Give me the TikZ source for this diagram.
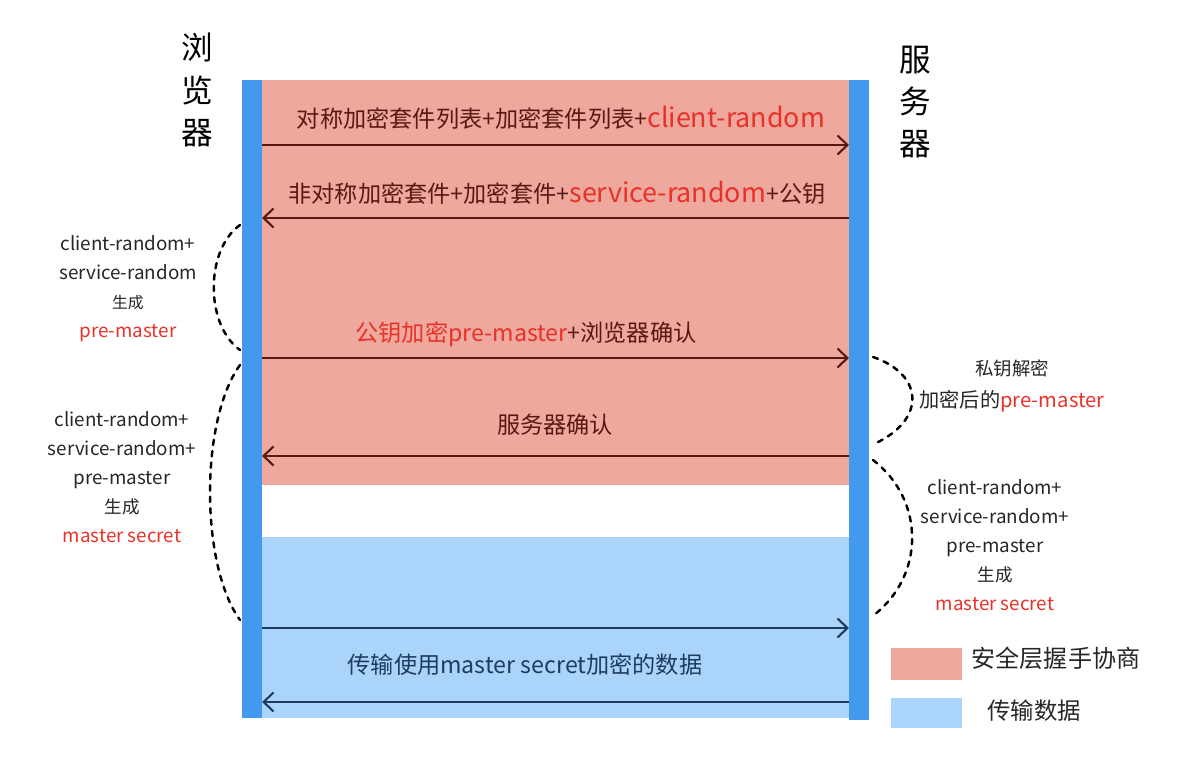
\documentclass[tikz,border=0pt]{standalone}
\usepackage{fontspec}
\setmainfont{Noto Sans CJK SC}
\usetikzlibrary{arrows.meta}

\definecolor{handshake}{RGB}{238,168,158}
\definecolor{lifeline}{RGB}{66,153,238}
\definecolor{transfer}{RGB}{170,212,250}
\definecolor{hilite}{RGB}{232,50,40}
\definecolor{msgbrown}{RGB}{90,25,15}
\definecolor{msgnavy}{RGB}{30,60,95}

\begin{document}
\begin{tikzpicture}[x=0.02cm,y=-0.02cm,
    msg/.style={line width=1.2pt,-{Straight Barb[length=2mm,width=3.8mm]}},
    arc/.style={dash pattern=on 3pt off 3.5pt,line width=1.4pt,line cap=round},
    msglabel/.style={font=\fontsize{13.2}{15}\selectfont},
    note/.style={align=center,font=\fontsize{10.7}{16.5}\selectfont,text=black!85},
    small/.style={font=\fontsize{10}{12}\selectfont},
    actor/.style={align=center,font=\fontsize{18}{24}\selectfont}]
\useasboundingbox (0,0) rectangle (1191,783);

% phases
\fill[handshake] (262,80) rectangle (849,485);
\fill[transfer] (262,537) rectangle (849,718);

% lifelines
\fill[lifeline] (242,80) rectangle (262,718);
\fill[lifeline] (849,80) rectangle (869,720);

\node[actor] (browser) at (197,90) {浏\\览\\器};
\node[actor] (server) at (915,102) {服\\务\\器};

% message end points
\coordinate (b1) at (262,145); \coordinate (s1) at (849,145);
\coordinate (b2) at (262,218); \coordinate (s2) at (849,218);
\coordinate (b3) at (262,358); \coordinate (s3) at (849,358);
\coordinate (b4) at (262,456); \coordinate (s4) at (849,456);
\coordinate (b5) at (262,628); \coordinate (s5) at (849,628);
\coordinate (b6) at (262,702); \coordinate (s6) at (849,702);

\draw[msg,msgbrown] (b1) -- (s1);
\draw[msg,msgbrown] (s2) -- (b2);
\draw[msg,msgbrown] (b3) -- (s3);
\draw[msg,msgbrown] (s4) -- (b4);
\draw[msg,msgnavy] (b5) -- (s5);
\draw[msg,msgnavy] (s6) -- (b6);

\node[msglabel,text=msgbrown] (m1) at (561,118) {对称加密套件列表+加密套件列表+\textcolor{hilite}{\fontsize{15.3}{17}\selectfont client-random}};
\node[msglabel,text=msgbrown] (m2) at (557,193) {非对称加密套件+加密套件+\textcolor{hilite}{\fontsize{15.3}{17}\selectfont service-random}+公钥};
\node[msglabel,text=msgbrown] (m3) at (526,334) {\textcolor{hilite}{公钥加密pre-master}+浏览器确认};
\node[msglabel,text=msgbrown] (m4) at (555,425) {服务器确认};
\node[msglabel,text=msgnavy] (m5) at (525,665) {传输使用master secret加密的数据};

% browser side notes
\node[note] (pre) at (128,289) {client-random+\\service-random\\{\small 生成}\\\textcolor{hilite}{pre-master}};
\node[note] (msb) at (122,477) {client-random+\\service-random+\\pre-master\\{\fontsize{10}{12}\selectfont 生成}\\\textcolor{hilite}{master secret}};

\coordinate (pa) at (240,225); \coordinate (pb) at (240,350);
\coordinate (qa) at (240,365); \coordinate (qb) at (240,620);
\draw[arc] (pa) .. controls (205,250) and (205,325) .. (pb);
\draw[arc] (qa) .. controls (200,420) and (200,565) .. (qb);

% server side notes
\node[note,font=\fontsize{11.5}{18}\selectfont] (dec) at (1012,386) {{\fontsize{10.5}{12}\selectfont 私钥解密}\\加密后的\textcolor{hilite}{pre-master}};
\node[note] (mss) at (995,545) {client-random+\\service-random+\\pre-master\\{\fontsize{10}{12}\selectfont 生成}\\\textcolor{hilite}{master secret}};

\coordinate (ra) at (873,357); \coordinate (rb) at (876,443);
\coordinate (ta) at (873,460); \coordinate (tb) at (874,615);
\draw[arc] (ra) .. controls (925,375) and (925,420) .. (rb);
\draw[arc] (ta) .. controls (925,500) and (925,575) .. (tb);

% legend
\fill[handshake] (891,648) rectangle (962,680);
\fill[transfer] (891,698) rectangle (962,728);
\node[text=black!85,font=\fontsize{13.7}{15}\selectfont] (lg1) at (1056,658) {安全层握手协商};
\node[text=black!85,font=\fontsize{13.3}{15}\selectfont] (lg2) at (1034,711) {传输数据};
\end{tikzpicture}
\end{document}
